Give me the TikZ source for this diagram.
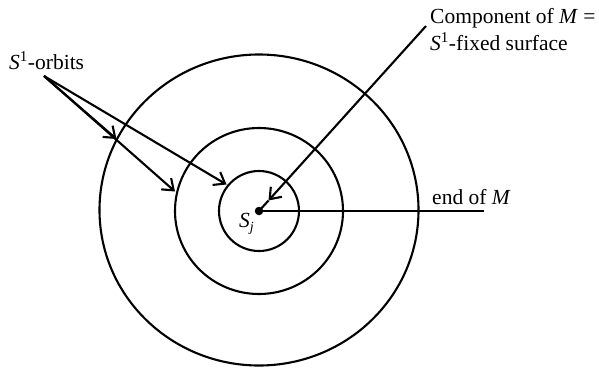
\documentclass[tikz,border=0pt]{standalone}
\usepackage{fontspec}
\setmainfont{Liberation Serif}
\usetikzlibrary{arrows.meta}
\begin{document}
\begin{tikzpicture}[x=1pt,y=-1pt,
  ring/.style={line width=2.1pt},
  conn/.style={line width=2.1pt},
  barb/.style={-{Straight Barb[length=10pt,width=15pt,line width=2.1pt]}},
  lab/.style={font=\fontsize{21.5}{25}\selectfont, inner sep=0pt}]
\useasboundingbox (0,0) rectangle (599,367);
% circles
\coordinate (ctr) at (259,211);
\draw[ring] (259,210) ellipse [x radius=159.5, y radius=155.5];
\draw[ring] (ctr) ellipse [x radius=84, y radius=83];
\draw[ring] (ctr) circle [radius=40];
\node[circle, fill=black, inner sep=0pt, minimum size=8.5pt] (c) at (ctr) {};
% labels
\node[lab, anchor=base west] (orb) at (9,69) {\textit{S}\textsuperscript{1}-orbits};
\node[lab, anchor=base west] (comp1) at (430,23) {Component of \textit{M} =};
\node[lab, anchor=base west] (comp2) at (430,50) {\textit{S}\textsuperscript{1}-fixed surface};
\node[lab, anchor=base west] (endlab) at (432,204) {end of \textit{M}};
\node[lab, anchor=base west] (sj) at (239,227) {\textit{S}\raisebox{-4pt}{\fontsize{14}{16}\selectfont\textit{j}}};
% connector ends
\coordinate (ostart) at (44,76);
\coordinate (tout) at (116.5,139);
\coordinate (tmid) at (175,191.5);
\coordinate (tin) at (226.5,184.5);
\coordinate (fs) at (426,26);
\coordinate (fstip) at (268.5,200.5);
\coordinate (endM) at (484,211);
% connectors
\draw[conn, barb] (ostart) -- (tout);
\draw[conn, barb] (ostart) -- (tmid);
\draw[conn, barb] (ostart) -- (tin);
\draw[conn, barb] (fs) -- (fstip);
\draw[conn] (fstip) -- (c.center);
\draw[conn] (c.center) -- (endM);
\end{tikzpicture}
\end{document}
